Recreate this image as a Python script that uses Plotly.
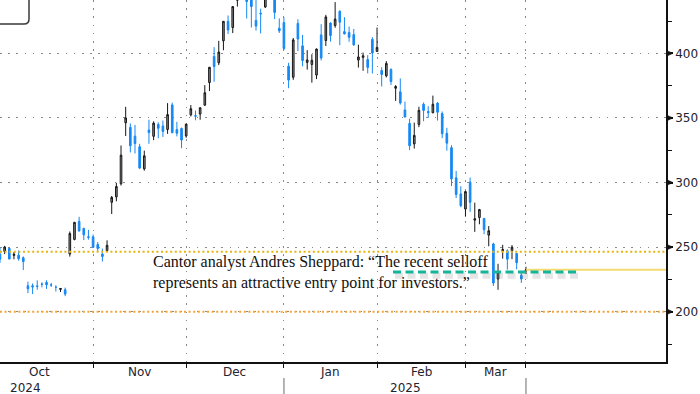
import plotly.graph_objects as go

# ---------------- data (daily OHLC) ----------------
dates = [
    "2024-10-03", "2024-10-04", "2024-10-07", "2024-10-08", "2024-10-09", "2024-10-10",
    "2024-10-11", "2024-10-14", "2024-10-15", "2024-10-16", "2024-10-17", "2024-10-18",
    "2024-10-21", "2024-10-22", "2024-10-23", "2024-10-24", "2024-10-25", "2024-10-28",
    "2024-10-29", "2024-10-30", "2024-10-31",
    "2024-11-01", "2024-11-04", "2024-11-05", "2024-11-06", "2024-11-07", "2024-11-08",
    "2024-11-11", "2024-11-12", "2024-11-13", "2024-11-14", "2024-11-15", "2024-11-18",
    "2024-11-19", "2024-11-20", "2024-11-21", "2024-11-22", "2024-11-25", "2024-11-26",
    "2024-11-27", "2024-11-29",
    "2024-12-02", "2024-12-03", "2024-12-04", "2024-12-05", "2024-12-06", "2024-12-09",
    "2024-12-10", "2024-12-11", "2024-12-12", "2024-12-13", "2024-12-16", "2024-12-17",
    "2024-12-18", "2024-12-19", "2024-12-20", "2024-12-23", "2024-12-24", "2024-12-26",
    "2024-12-27", "2024-12-30", "2024-12-31",
    "2025-01-02", "2025-01-03", "2025-01-06", "2025-01-07", "2025-01-08", "2025-01-10",
    "2025-01-13", "2025-01-14", "2025-01-15", "2025-01-16", "2025-01-17", "2025-01-21",
    "2025-01-22", "2025-01-23", "2025-01-24", "2025-01-27", "2025-01-28", "2025-01-29",
    "2025-01-30", "2025-01-31",
    "2025-02-03", "2025-02-04", "2025-02-05", "2025-02-06", "2025-02-07", "2025-02-10",
    "2025-02-11", "2025-02-12", "2025-02-13", "2025-02-14", "2025-02-18", "2025-02-19",
    "2025-02-20", "2025-02-21", "2025-02-24", "2025-02-25", "2025-02-26", "2025-02-27",
    "2025-02-28",
    "2025-03-03", "2025-03-04", "2025-03-05", "2025-03-06", "2025-03-07", "2025-03-10",
    "2025-03-11", "2025-03-12", "2025-03-13", "2025-03-14", "2025-03-17", "2025-03-18",
    "2025-03-19",
]
opens = [
    244.5, 246.7, 249.0, 243.6, 243.8, 241.8,
    220.1, 220.1, 220.0, 221.4, 222.7, 220.7,
    218.9, 217.3, 217.1, 244.7, 256.0, 270.0,
    264.5, 258.0, 258.0,
    252.0, 244.6, 247.3, 284.7, 288.9, 299.1,
    346.3, 342.7, 335.9, 327.7, 310.6, 340.7,
    335.8, 345.0, 343.8, 341.1, 360.1, 341.0,
    341.8, 336.1,
    352.4, 351.8, 353.0, 359.9, 377.4, 397.6,
    392.7, 409.7, 424.8, 420.0, 441.1, 475.9,
    466.5, 451.9, 425.5, 431.0, 435.9, 465.2,
    449.5, 419.4, 423.8,
    390.1, 381.5, 423.2, 405.8, 393.0, 391.4,
    383.2, 414.3, 409.9, 423.5, 421.5, 432.6,
    416.8, 416.1, 414.5, 394.8, 396.9, 395.2,
    410.8, 401.5,
    386.7, 382.6, 387.5, 373.0, 370.2, 356.2,
    345.8, 329.9, 345.0, 360.6, 355.0, 354.0,
    361.5, 353.4, 338.1, 327.0, 303.7, 291.2,
    279.5,
    300.3, 270.9, 272.9, 272.1, 259.3, 252.5,
    225.3, 247.2, 247.2, 247.3, 245.1, 228.2,
    231.6,
]
highs = [
    249.8, 251.0, 249.8, 246.2, 247.4, 242.8,
    223.3, 221.9, 224.3, 222.8, 224.4, 222.3,
    220.5, 218.2, 218.7, 262.1, 269.5, 273.5,
    265.0, 263.4, 259.8,
    254.0, 248.9, 255.3, 289.6, 299.8, 328.7,
    358.6, 345.8, 344.6, 330.0, 324.7, 348.6,
    347.4, 346.6, 348.0, 361.5, 361.9, 347.0,
    342.6, 345.5,
    360.0, 355.7, 358.1, 375.4, 389.5, 404.8,
    409.7, 424.9, 429.3, 436.3, 463.2, 484.0,
    488.5, 456.4, 447.1, 434.5, 462.8, 465.3,
    450.0, 427.0, 427.9,
    392.7, 411.9, 426.4, 414.3, 402.5, 399.3,
    403.8, 422.6, 429.8, 424.0, 439.7, 433.2,
    428.0, 420.7, 418.9, 406.7, 400.6, 398.6,
    412.5, 420.0,
    389.2, 394.0, 388.4, 375.4, 380.6, 362.7,
    349.4, 346.4, 358.7, 362.0, 359.1, 367.3,
    362.3, 355.0, 342.4, 328.9, 309.0, 297.2,
    293.9,
    303.9, 284.4, 279.6, 272.7, 266.3, 253.4,
    237.1, 251.8, 248.3, 251.6, 245.4, 230.1,
    234.8,
]
lows = [
    237.8, 244.6, 240.7, 240.6, 239.5, 232.3,
    214.4, 213.7, 217.1, 218.9, 217.7, 219.2,
    215.7, 215.3, 212.1, 242.7, 255.3, 262.2,
    255.5, 255.8, 249.3,
    246.7, 238.9, 246.2, 275.6, 285.5, 297.7,
    336.0, 323.3, 322.5, 310.4, 309.2, 330.0,
    332.8, 334.3, 335.3, 337.7, 338.2, 335.7,
    326.6, 334.7,
    351.2, 348.2, 348.6, 359.5, 370.8, 378.0,
    390.9, 402.4, 415.0, 415.7, 436.2, 457.5,
    427.0, 420.0, 417.6, 415.4, 435.1, 451.0,
    426.5, 415.8, 402.5,
    373.0, 379.5, 401.7, 390.0, 387.4, 377.3,
    380.1, 394.5, 405.7, 409.1, 419.8, 406.3,
    414.6, 409.0, 405.8, 389.0, 386.5, 384.5,
    384.4, 401.3,
    374.4, 381.4, 375.5, 363.2, 360.3, 350.5,
    325.1, 326.3, 342.9, 347.5, 350.0, 353.7,
    348.0, 334.4, 324.7, 297.3, 288.0, 280.9,
    273.6,
    277.3, 261.8, 267.7, 260.0, 250.7, 220.0,
    217.0, 241.1, 232.6, 240.7, 232.8, 222.3,
    229.2,
]
closes = [
    240.7, 250.1, 240.8, 244.5, 241.1, 238.8,
    217.8, 219.2, 219.6, 221.3, 220.9, 220.7,
    218.9, 218.0, 213.7, 260.5, 269.2, 262.5,
    259.5, 257.6, 249.9,
    249.0, 242.8, 251.4, 288.5, 296.9, 321.2,
    350.0, 328.5, 330.2, 311.2, 320.7, 338.7,
    346.0, 342.0, 339.6, 352.6, 338.6, 338.2,
    332.9, 345.2,
    357.1, 351.4, 357.9, 369.5, 389.2, 389.8,
    401.0, 424.8, 418.1, 436.2, 463.0, 479.9,
    440.1, 436.2, 421.1, 430.6, 462.3, 454.1,
    431.7, 417.4, 403.8,
    379.3, 410.4, 411.1, 394.4, 394.9, 394.7,
    403.3, 396.4, 428.2, 413.8, 426.5, 424.1,
    415.1, 412.4, 406.6, 397.2, 398.1, 389.1,
    400.3, 404.6,
    383.7, 392.2, 378.2, 374.3, 361.6, 350.7,
    328.5, 336.5, 355.9, 355.8, 354.1, 360.6,
    354.4, 337.8, 330.5, 302.8, 290.8, 282.0,
    293.0,
    284.7, 272.0, 279.1, 263.5, 262.7, 222.2,
    230.6, 248.1, 240.7, 250.0, 238.0, 225.3,
    232.5,
]

holidays = ["2024-11-28", "2024-12-25", "2025-01-01", "2025-01-09",
            "2025-01-20", "2025-02-17"]
month_boundaries = ["2024-10-31", "2024-11-29", "2024-12-31",
                    "2025-01-31", "2025-02-28", "2025-03-19"]
year_boundaries = ["2024-12-31", "2025-03-19"]
month_labels = ["Oct", "Nov", "Dec", "Jan", "Feb", "Mar"]
year_labels = ["2024", "2025"]
y_ticks = [200, 250, 300, 350, 400]
support_levels = [246.5, 200]
entry_level = 230.7
x_range = ["2024-10-03", "2025-04-30 02:00"]
y_range = [161.1, 441.3]
quote = ("Cantor analyst Andres Sheppard: \u201cThe recent selloff<br>"
         "represents an attractive entry point for investors.\u201d")

# ---------------- figure ----------------
PW, PH = 666.0, 362.0  # plot area in px
dx = 1 / PW

fig = go.Figure()
fig.add_trace(go.Candlestick(
    x=dates, open=opens, high=highs, low=lows, close=closes,
    increasing=dict(line=dict(color="#161616", width=1), fillcolor="#909090"),
    decreasing=dict(line=dict(color="#1588f5", width=1), fillcolor="#1588f5"),
    whiskerwidth=0, showlegend=False, hoverinfo="skip",
))

shapes = []
# support / level lines (dotted orange)
for lvl, col in zip(support_levels, ["#e9b40c", "#f3a53a"]):
    shapes.append(dict(type="line", xref="paper", yref="y", x0=0, x1=1, y0=lvl, y1=lvl,
                       line=dict(color=col, width=2, dash="2px,2.6px"), layer="above"))
# last price line
shapes.append(dict(type="line", xref="x", yref="y", x0=dates[-1], x1=x_range[1],
                   y0=closes[-1], y1=closes[-1],
                   line=dict(color="#f4da72", width=2), layer="above"))
# entry level dashed line with soft shadow
shapes.append(dict(type="line", xref="paper", yref="y", x0=395 / PW, x1=580 / PW,
                   y0=entry_level - 2.8, y1=entry_level - 2.8,
                   line=dict(color="rgba(110,110,110,0.18)", width=6, dash="8px,4.5px"),
                   layer="above"))
shapes.append(dict(type="line", xref="paper", yref="y", x0=393 / PW, x1=578 / PW,
                   y0=entry_level, y1=entry_level,
                   line=dict(color="#16b59a", width=3, dash="8px,4.5px"), layer="above"))
# year separators under the axis
for d in year_boundaries:
    shapes.append(dict(type="line", xref="x", yref="paper", x0=d, x1=d,
                       y0=-16 / PH, y1=-40 / PH,
                       line=dict(color="#9c9c9c", width=1.5)))
# tick triangles on right axis
for v in y_ticks:
    shapes.append(dict(type="path", xref="paper", yref="y",
                       path=f"M {1 + 0.5 * dx},{v - 2.3} L {1 + 0.5 * dx},{v + 2.3} L {1 + 7 * dx},{v} Z",
                       fillcolor="#111111", line=dict(color="#111111", width=0.5)))
# legend box remnant at top-left
bx, by, r = 29 / PW, 1 - 24 / PH, 5
shapes.append(dict(type="path", xref="paper", yref="paper",
                   path=(f"M {-2 * dx},{by} L {bx - r * dx},{by} "
                         f"Q {bx},{by} {bx},{by + r / PH} L {bx},{1 + 3 / PH}"),
                   line=dict(color="#3a3a3a", width=1.5)))

annotations = []
month_px = [39.6, 139.7, 234.7, 330.0, 421.0, 495.0]
for lab, px in zip(month_labels, month_px):
    annotations.append(dict(text=lab, xref="paper", yref="paper", x=px / PW, y=-10 / PH,
                            xanchor="center", yanchor="middle", showarrow=False,
                            font=dict(family="DejaVu Sans", size=12, color="#23232f")))
year_px = [25.5, 405.0]
for lab, px in zip(year_labels, year_px):
    annotations.append(dict(text=lab, xref="paper", yref="paper", x=px / PW, y=-25.5 / PH,
                            xanchor="center", yanchor="middle", showarrow=False,
                            font=dict(family="DejaVu Sans", size=12, color="#23232f")))
annotations.append(dict(text=quote, xref="paper", yref="paper", x=151 / PW, y=1 - 251 / PH,
                        xanchor="left", yanchor="top", align="left", showarrow=False,
                        font=dict(family="Liberation Serif", size=16, color="#111111")))

fig.update_layout(
    width=700, height=394,
    margin=dict(l=0, r=700 - PW, t=0, b=394 - PH),
    paper_bgcolor="white", plot_bgcolor="white",
    showlegend=False, boxgap=0.5,
    shapes=shapes, annotations=annotations,
    xaxis=dict(
        type="date", range=x_range,
        rangebreaks=[dict(bounds=["sat", "mon"]), dict(values=holidays)],
        rangeslider=dict(visible=False),
        tickvals=month_boundaries, ticktext=[""] * len(month_boundaries),
        showgrid=True, gridcolor="#8a8a8a", gridwidth=1.3, griddash="1.6px,6.6px",
        ticks="outside", ticklen=4, tickcolor="#111111", tickwidth=1.3,
        showline=True, linecolor="#111111", linewidth=1.5,
        zeroline=False, fixedrange=True,
    ),
    yaxis=dict(
        side="right", range=y_range,
        tickvals=y_ticks, showgrid=True, gridcolor="#8a8a8a", gridwidth=1.3,
        griddash="1.6px,6.6px",
        ticks="outside", ticklen=5, tickcolor="#111111", tickwidth=1.5,
        minor=dict(dtick=25, tick0=0, ticks="outside", ticklen=4, tickcolor="#111111",
                   tickwidth=1, showgrid=False),
        showline=True, linecolor="#111111", linewidth=1.5,
        tickfont=dict(family="DejaVu Sans", size=12, color="#23232f"),
        zeroline=False, fixedrange=True,
    ),
)

fig.write_html("out.html", config={"displayModeBar": False},
               post_script="document.body.style.margin='0';document.body.style.overflow='hidden';")
